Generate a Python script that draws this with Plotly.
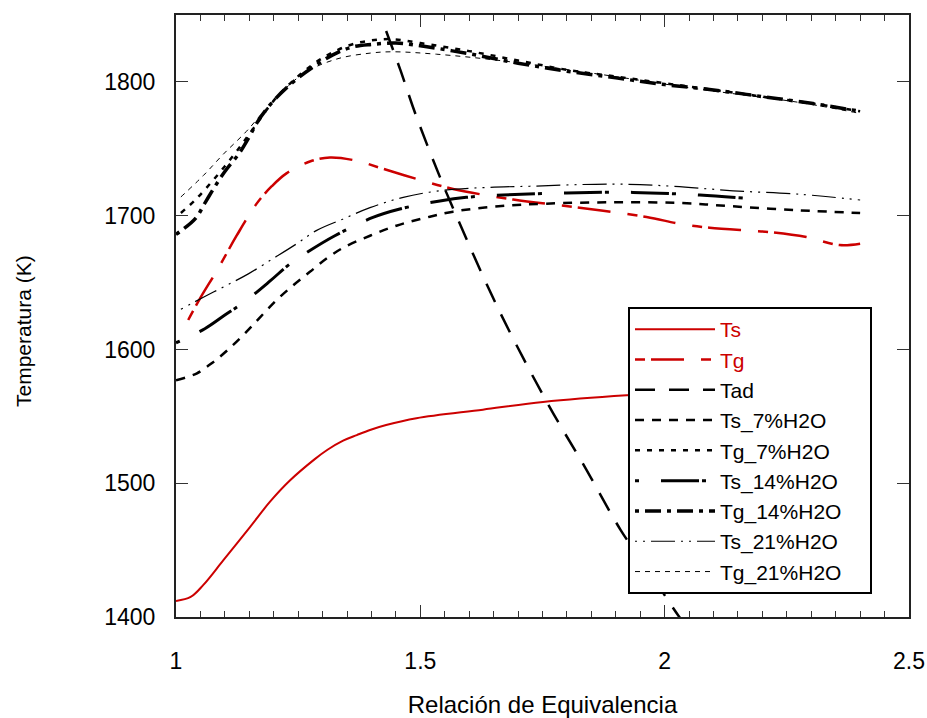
import plotly.graph_objects as go

RED = "rgb(204,0,0)"

# ---- data (phi, temperature K) ----
ts_x = [1.0, 1.03, 1.056, 1.097, 1.151, 1.192, 1.233, 1.284, 1.31, 1.342, 1.37, 1.397, 1.43, 1.492, 1.628, 1.751, 1.922, 2.1, 2.25, 2.4]
ts_y = [1412, 1415, 1424, 1442.5, 1467, 1486, 1502, 1518, 1525, 1531.8, 1536, 1539.8, 1543.5, 1548.6, 1555, 1560.7, 1565.7, 1569, 1571, 1573]

tg_x = [1.025, 1.049, 1.087, 1.124, 1.165, 1.196, 1.226, 1.274, 1.315, 1.37, 1.424, 1.506, 1.567, 1.69, 1.826, 1.963, 2.03, 2.092, 2.221, 2.29, 2.358, 2.4]
tg_y = [1622, 1638, 1661, 1685, 1709, 1722, 1731.6, 1740.5, 1743.5, 1741, 1735, 1726, 1720, 1712, 1706, 1699, 1694, 1691, 1687.5, 1684, 1678, 1679]

tad_x = [1.43, 1.46, 1.49, 1.54, 1.57, 1.66, 1.76, 1.84, 1.91, 1.97, 2.03, 2.06]
tad_y = [1838, 1808, 1776, 1729, 1703, 1630, 1560, 1510, 1465, 1433, 1400, 1386]

ts7_x = [1.0, 1.042, 1.076, 1.107, 1.141, 1.172, 1.206, 1.24, 1.274, 1.308, 1.342, 1.397, 1.451, 1.506, 1.567, 1.66, 1.758, 1.894, 2.03, 2.139, 2.276, 2.4]
ts7_y = [1577, 1582, 1590.5, 1600, 1612, 1624, 1637, 1648, 1658, 1668, 1676, 1685, 1692.5, 1698, 1703, 1707, 1709, 1710, 1709.5, 1707, 1704, 1702]

tg7_x = [1.01, 1.04, 1.07, 1.10, 1.13, 1.16, 1.2, 1.24, 1.28, 1.32, 1.36, 1.40, 1.44, 1.5, 1.6, 1.7, 1.8, 1.9, 2.0, 2.1, 2.2, 2.3, 2.4]
tg7_y = [1702, 1712, 1724, 1737, 1751, 1766, 1786, 1801, 1813, 1822, 1828, 1831, 1832, 1829, 1823, 1816, 1809, 1804, 1799, 1794, 1789, 1784, 1778]

ts14_x = [1.0, 1.059, 1.1, 1.138, 1.192, 1.23, 1.27, 1.325, 1.403, 1.458, 1.54, 1.594, 1.669, 1.799, 1.935, 2.072, 2.2]
ts14_y = [1605, 1615.5, 1625.7, 1635, 1651, 1663, 1673, 1685, 1698.7, 1705, 1711, 1713.7, 1715.4, 1717, 1717.4, 1715.4, 1712]

tg14_x = [1.0, 1.04, 1.06, 1.08, 1.10, 1.13, 1.15, 1.17, 1.2, 1.24, 1.28, 1.32, 1.36, 1.40, 1.45, 1.5, 1.6, 1.7, 1.8, 1.9, 2.0, 2.1, 2.2, 2.3, 2.4]
tg14_y = [1686, 1698, 1710, 1722, 1733, 1747, 1759, 1772, 1786, 1800, 1811, 1820, 1826, 1828, 1829, 1827, 1821, 1814, 1808, 1803, 1798, 1794, 1789, 1784, 1778]

ts21_x = [1.01, 1.056, 1.104, 1.148, 1.199, 1.247, 1.288, 1.342, 1.397, 1.465, 1.547, 1.63, 1.724, 1.894, 2.017, 2.14, 2.276, 2.4]
ts21_y = [1630, 1639, 1648, 1656.5, 1668, 1679, 1689, 1697.5, 1706, 1713.7, 1719, 1721, 1722, 1723.6, 1722, 1718.6, 1716, 1711.7]

tg21_x = [1.01, 1.056, 1.097, 1.144, 1.192, 1.26, 1.328, 1.397, 1.444, 1.533, 1.669, 1.867, 2.072, 2.276, 2.4]
tg21_y = [1714, 1730, 1746, 1763, 1783, 1806, 1817, 1821.5, 1822.5, 1820.7, 1815.7, 1805.7, 1794.5, 1784.6, 1776.4]

x_ticks = [1, 1.5, 2, 2.5]
x_tick_labels = ["1", "1.5", "2", "2.5"]
y_ticks = [1400, 1500, 1600, 1700, 1800]
y_tick_labels = ["1400", "1500", "1600", "1700", "1800"]

PAD = "\u00a0" * 4
series = [
    ("<span style='color:rgb(204,0,0)'>Ts</span>", ts_x, ts_y, RED, 2, "solid"),
    ("<span style='color:rgb(204,0,0)'>Tg</span>", tg_x, tg_y, RED, 2.5, "10px,6px,33px,17px"),
    ("Tad", tad_x, tad_y, "black", 2.5, "20px,14px"),
    ("Ts_7%H2O", ts7_x, ts7_y, "black", 2.5, "9px,8px"),
    ("Tg_7%H2O", tg7_x, tg7_y, "black", 2.5, "5px,7px"),
    ("Ts_14%H2O", ts14_x, ts14_y, "black", 3, "4px,22px,38px,3px"),
    ("Tg_14%H2O" + PAD, tg14_x, tg14_y, "black", 3.5, "4px,6px,16px,6px"),
    ("Ts_21%H2O", ts21_x, ts21_y, "black", 1.2, "2px,6px,2px,6px,24px,6px"),
    ("Tg_21%H2O", tg21_x, tg21_y, "black", 1, "5px,5px"),
]

fig = go.Figure()
for name, xs, ys, color, w, dash in series:
    fig.add_trace(go.Scatter(x=xs, y=ys, mode="lines", name=name, hoverinfo="skip",
                             line=dict(color=color, width=w, dash=dash, shape="spline", smoothing=1.0)))

FONT = "Liberation Sans, Arial, sans-serif"

W, H = 927, 718
L, T, R, B = 176, 15, 18, 101
PW, PH = W - L - R, H - T - B

fig.update_layout(
    width=W, height=H,
    margin=dict(l=L, r=R, t=T, b=B, autoexpand=False),
    paper_bgcolor="white", plot_bgcolor="white",
    font=dict(family=FONT, size=23, color="black"),
    showlegend=True,
    legend=dict(x=(628 - L) / PW, y=(H - B - 307) / PH, xanchor="left", yanchor="top",
                bgcolor="white", bordercolor="black", borderwidth=2,
                font=dict(family=FONT, size=21, color="black"),
                itemwidth=80, tracegroupgap=0),
    xaxis=dict(range=[1, 2.5], tickvals=x_ticks, ticktext=x_tick_labels,
               ticks="inside", ticklen=12, tickwidth=1, tickcolor="#333",
               minor=dict(dtick=0.05, ticks="inside", ticklen=6, tickwidth=1, tickcolor="#333"),
               showline=True, linecolor="#222", linewidth=2, mirror="allticks",
               showgrid=False, zeroline=False, ticklabelstandoff=22, automargin=False,
               title=dict(text="Relación de Equivalencia", font=dict(size=24), standoff=26)),
    yaxis=dict(range=[1400, 1850], tickvals=y_ticks, ticktext=y_tick_labels,
               ticks="inside", ticklen=12, tickwidth=1, tickcolor="#333",
               showline=True, linecolor="#222", linewidth=2, mirror="allticks",
               showgrid=False, zeroline=False, ticklabelstandoff=14, automargin=False),
    annotations=[dict(text="Temperatura (K)", textangle=-90, showarrow=False,
                      xref="paper", yref="paper", x=(23 - L) / PW, y=(H - B - 331) / PH,
                      xanchor="center", yanchor="middle", font=dict(size=21))],
)

# remove the browser's default 8px page margin so the figure fills the window exactly
fig.write_html("out.html", config={"displayModeBar": False},
               post_script="document.body.style.margin='0';document.body.style.overflow='hidden';")
